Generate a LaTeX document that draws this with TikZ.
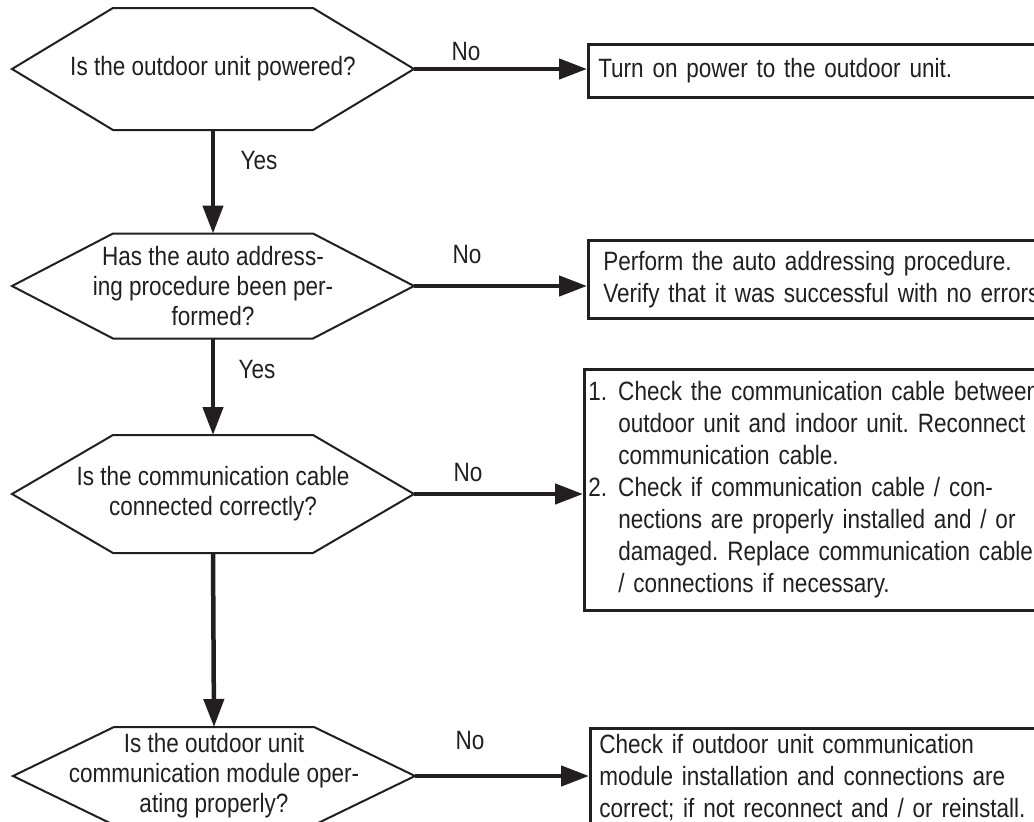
\documentclass[tikz,border=0pt]{standalone}
\usepackage{fontspec}
\setsansfont{Liberation Sans}[FakeStretch=0.85]
\usetikzlibrary{arrows.meta, positioning, calc}
\definecolor{ink}{HTML}{231F20}
\tikzset{
  every picture/.style={font=\sffamily\fontsize{26.5}{32}\selectfont},
  ques/.style={align=center, inner sep=0pt, text=ink, font=\sffamily\fontsize{26.5}{30}\selectfont},
  act/.style={draw=ink, line width=2.5pt, anchor=north west, align=left, text width=480pt, text=ink, inner xsep=#1, inner ysep=4pt},
  act/.default=10pt,
  hexline/.style={draw=ink, line width=2pt},
  arrow/.style={-{Triangle[length=28pt, width=20pt]}, draw=ink, line width=4.5pt},
  lbl/.style={text=ink, inner sep=0pt},
}
\frenchspacing

\begin{document}
\begin{tikzpicture}[x=1pt, y=1pt]
  \useasboundingbox (0,0) rectangle (1034,-822);
  \clip (0,0) rectangle (1034,-822);
  % questions
  \node[ques] (q1) at (213,-69) {Is the outdoor unit powered?};
  \node[ques] (q2) at (213,-286) {Has the auto address-\\ing procedure been per-\\formed?};
  \node[ques] (q3) at (213,-494) {Is the communication cable\\connected correctly?};
  \node[ques] (q4) at (214,-776) {Is the outdoor unit\\communication module oper-\\ating properly?};
  \foreach \q/\h in {q1/61, q2/52.5, q3/59, q4/49} {
    \draw[hexline] ($(\q)+(-201,0)$) -- ($(\q)+(-100,\h)$) -- ($(\q)+(100,\h)$) -- ($(\q)+(201,0)$)
      -- ($(\q)+(100,-\h)$) -- ($(\q)+(-100,-\h)$) -- cycle;
    \coordinate (\q-t) at ($(\q)+(0,\h)$);
    \coordinate (\q-b) at ($(\q)+(0,-\h)$);
    \coordinate (\q-r) at ($(\q)+(201,0)$);
  }
  % actions
  \node[act, minimum height=53pt] (a1) at (587,-43) {Turn on power to the outdoor unit.};
  \node[act=15pt, minimum height=78pt] (a2) at (587,-239) {Perform the auto addressing procedure.\\Verify that it was successful with no errors.};
  \node[act=4pt, minimum height=241pt] (a3) at (583,-368) {\begin{tabular}{@{}p{30pt}@{}l@{}}
    1. & Check the communication cable between\\
       & outdoor unit and indoor unit. Reconnect\\
       & communication cable.\\
    2. & Check if communication cable / con-\\
       & nections are properly installed and / or\\
       & damaged. Replace communication cable\\
       & / connections if necessary.
  \end{tabular}};
  \node[act=9pt, inner ysep=6pt] (a4) at (589,-727) {Check if outdoor unit communication\\module installation and connections are\\correct; if not reconnect and / or reinstall.};
  % connectors
  \foreach \i in {1,2,3,4} \draw[arrow] (q\i-r) -- (q\i-r -| a\i.west);
  \foreach \i/\j in {1/2, 2/3, 3/4} \draw[arrow] (q\i-b) -- (q\j-t);
  % labels
  \node[lbl] (n1) at (466,-52) {No};
  \node[lbl] (n2) at (467,-255) {No};
  \node[lbl] (n3) at (468,-473) {No};
  \node[lbl] (n4) at (470,-741) {No};
  \node[lbl] (y1) at (259,-161) {Yes};
  \node[lbl] (y2) at (257,-370) {Yes};
\end{tikzpicture}
\end{document}
